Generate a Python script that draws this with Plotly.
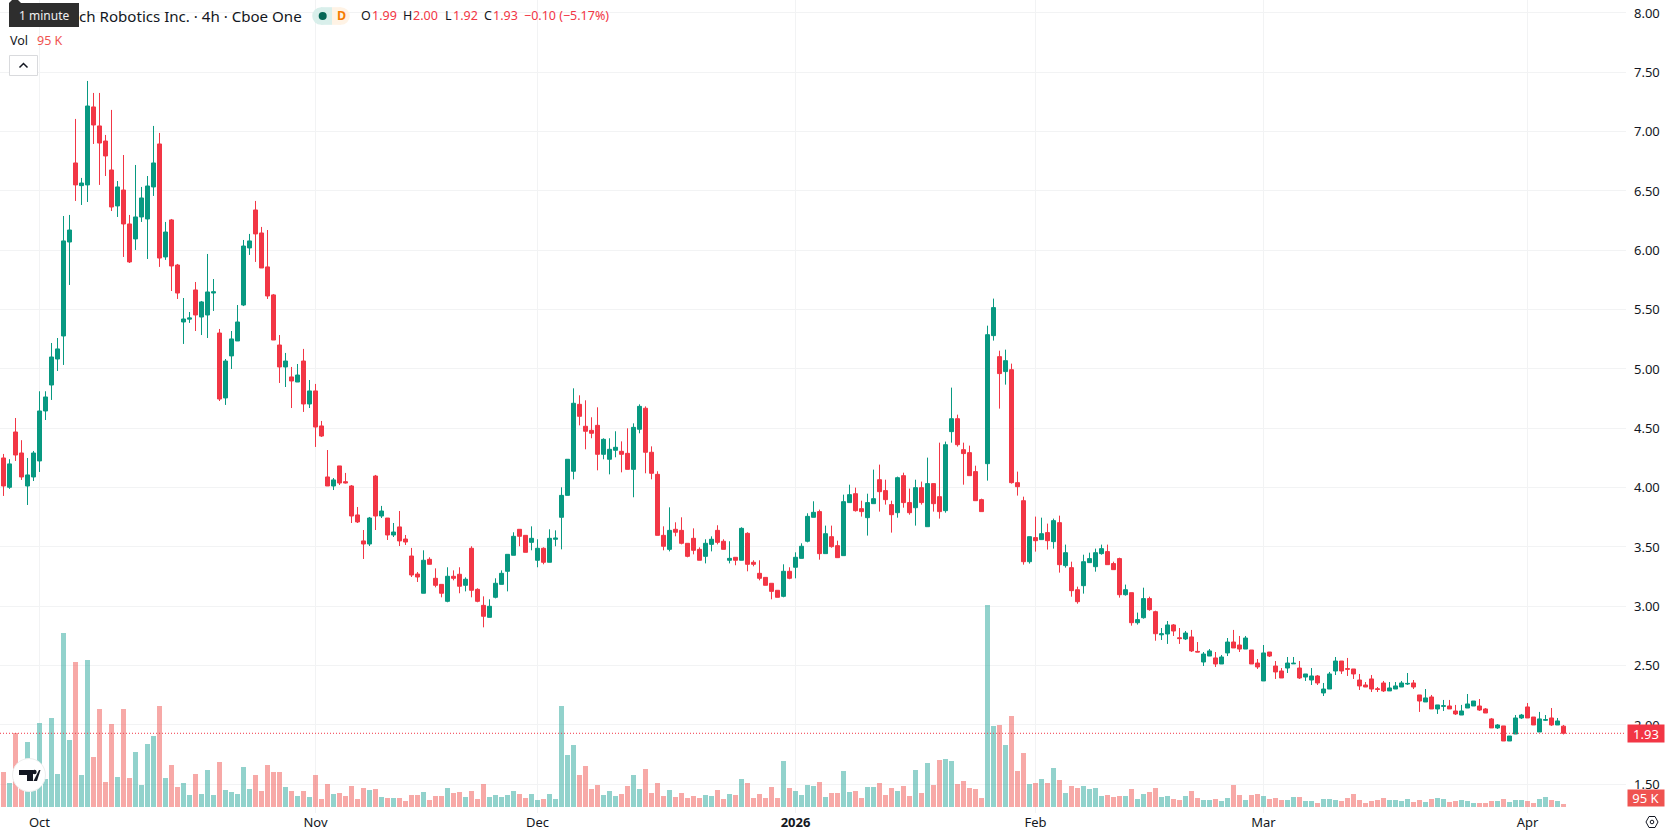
import plotly.graph_objects as go

# 4-hour bars, oldest first; prices in USD, volume in thousands of shares
opens = [
    4.25, 4.003, 4.469, 4.292, 4.014, 4.09, 4.225, 4.646, 4.865, 5.084,
    5.278, 6.07, 6.736, 6.545, 6.551, 7.208, 7.048, 6.921, 6.677, 6.374,
    6.508, 6.222, 6.096, 6.281, 6.264, 6.534, 6.896, 5.944, 6.256, 5.876,
    5.396, 5.42, 5.666, 5.438, 5.455, 5.64, 5.303, 4.756, 5.11, 5.236,
    5.539, 6.02, 6.34, 6.146, 5.86, 5.624, 5.202, 5.017, 4.933, 4.89,
    5.067, 4.705, 4.815, 4.52, 4.09, 4.014, 4.183, 4.05, 4.014, 3.77,
    3.551, 3.525, 4.098, 3.761, 3.744, 3.601, 3.669, 3.567, 3.424, 3.272,
    3.11, 3.396, 3.236, 3.185, 3.042, 3.253, 3.27, 3.177, 3.489, 3.143,
    3.008, 2.907, 3.076, 3.185, 3.295, 3.43, 3.649, 3.598, 3.539, 3.388,
    3.489, 3.371, 3.565, 3.75, 3.935, 4.138, 4.702, 4.517, 4.483, 4.525,
    4.281, 4.239, 4.315, 4.306, 4.289, 4.154, 4.492, 4.669, 4.298, 4.112,
    3.598, 3.48, 3.649, 3.64, 3.531, 3.573, 3.48, 3.421, 3.522, 3.64,
    3.548, 3.388, 3.413, 3.388, 3.615, 3.371, 3.278, 3.244, 3.194, 3.135,
    3.084, 3.295, 3.329, 3.404, 3.548, 3.75, 3.798, 3.444, 3.587, 3.511,
    3.427, 3.874, 3.949, 3.823, 3.747, 3.865, 4.067, 3.975, 3.857, 3.789,
    4.101, 3.874, 3.831, 4.0, 3.671, 4.034, 3.924, 3.806, 4.472, 4.581,
    4.32, 4.295, 4.135, 3.899, 4.202, 5.281, 5.104, 4.978, 4.994, 4.042,
    3.89, 3.376, 3.579, 3.562, 3.621, 3.545, 3.705, 3.343, 3.326, 3.14,
    3.174, 3.368, 3.334, 3.444, 3.461, 3.36, 3.402, 3.098, 3.115, 2.862,
    2.904, 3.065, 2.955, 2.76, 2.767, 2.843, 2.735, 2.725, 2.742, 2.62,
    2.531, 2.581, 2.565, 2.514, 2.607, 2.699, 2.674, 2.64, 2.632, 2.522,
    2.371, 2.615, 2.497, 2.455, 2.48, 2.515, 2.48, 2.404, 2.379, 2.413,
    2.27, 2.303, 2.455, 2.539, 2.475, 2.472, 2.379, 2.337, 2.388, 2.305,
    2.354, 2.287, 2.303, 2.32, 2.345, 2.354, 2.253, 2.194, 2.236, 2.135,
    2.157, 2.16, 2.118, 2.084, 2.143, 2.16, 2.16, 2.135, 2.051, 1.975,
    1.992, 1.865, 1.924, 2.059, 2.152, 2.067, 1.941, 2.04, 2.059, 2.0,
    1.99,
]
highs = [
    4.284, 4.24, 4.587, 4.40, 4.25, 4.309, 4.812, 4.812, 5.219, 5.261,
    6.289, 6.298, 7.107, 6.61, 7.427, 7.326, 7.326, 6.972, 7.183, 6.584,
    6.803, 6.298, 6.719, 6.534, 6.626, 7.048, 6.989, 6.239, 6.264, 5.885,
    5.598, 5.48, 5.733, 5.573, 5.969, 5.758, 5.337, 5.084, 5.32, 5.539,
    6.087, 6.138, 6.416, 6.197, 6.171, 5.632, 5.286, 5.135, 5.017, 5.042,
    5.169, 4.907, 4.874, 4.562, 4.317, 4.081, 4.183, 4.124, 4.022, 3.837,
    3.643, 3.753, 4.107, 3.846, 3.744, 3.702, 3.803, 3.601, 3.492, 3.289,
    3.472, 3.413, 3.32, 3.185, 3.329, 3.303, 3.329, 3.244, 3.506, 3.152,
    3.084, 3.059, 3.236, 3.303, 3.438, 3.624, 3.649, 3.598, 3.674, 3.565,
    3.497, 3.649, 3.64, 4.003, 4.239, 4.837, 4.778, 4.736, 4.593, 4.677,
    4.416, 4.416, 4.475, 4.39, 4.5, 4.542, 4.702, 4.685, 4.348, 4.138,
    3.674, 3.834, 3.708, 3.75, 3.531, 3.657, 3.497, 3.565, 3.59, 3.683,
    3.565, 3.548, 3.413, 3.666, 3.624, 3.388, 3.388, 3.244, 3.194, 3.135,
    3.354, 3.329, 3.455, 3.531, 3.784, 3.885, 3.815, 3.68, 3.68, 3.553,
    3.941, 4.025, 4.0, 3.89, 3.949, 4.152, 4.194, 4.067, 3.89, 4.093,
    4.126, 3.992, 4.067, 4.051, 4.253, 4.034, 4.379, 4.388, 4.843, 4.615,
    4.379, 4.354, 4.185, 3.907, 5.365, 5.593, 5.154, 5.163, 5.045, 4.135,
    3.924, 3.587, 3.756, 3.747, 3.697, 3.739, 3.764, 3.52, 3.376, 3.166,
    3.435, 3.452, 3.486, 3.52, 3.52, 3.376, 3.41, 3.183, 3.115, 2.947,
    3.157, 3.081, 2.963, 2.817, 2.876, 2.851, 2.817, 2.792, 2.801, 2.699,
    2.615, 2.64, 2.615, 2.59, 2.733, 2.801, 2.75, 2.75, 2.632, 2.556,
    2.674, 2.615, 2.539, 2.48, 2.573, 2.573, 2.539, 2.43, 2.48, 2.421,
    2.354, 2.447, 2.573, 2.539, 2.565, 2.472, 2.43, 2.362, 2.421, 2.32,
    2.371, 2.362, 2.362, 2.371, 2.438, 2.379, 2.253, 2.303, 2.253, 2.169,
    2.211, 2.211, 2.169, 2.169, 2.261, 2.202, 2.219, 2.143, 2.059, 2.008,
    1.992, 1.907, 2.084, 2.093, 2.185, 2.067, 2.11, 2.084, 2.143, 2.059,
    2.0,
]
lows = [
    3.93, 3.99, 4.225, 4.065, 3.854, 4.056, 4.132, 4.57, 4.739, 4.983,
    5.034, 5.708, 6.416, 6.382, 6.407, 6.896, 6.551, 6.626, 6.331, 6.281,
    5.944, 5.893, 6.003, 6.239, 5.927, 6.458, 5.86, 5.919, 5.657, 5.59,
    5.211, 5.388, 5.32, 5.286, 5.261, 5.489, 4.73, 4.697, 5.0, 5.236,
    5.53, 5.961, 5.902, 5.851, 5.59, 5.244, 4.882, 4.848, 4.671, 4.89,
    4.638, 4.671, 4.343, 4.427, 4.014, 3.98, 4.022, 4.035, 3.702, 3.702,
    3.399, 3.508, 3.643, 3.744, 3.559, 3.584, 3.508, 3.517, 3.247, 3.205,
    3.11, 3.354, 3.16, 3.076, 3.034, 3.219, 3.11, 3.126, 3.076, 3.034,
    2.823, 2.907, 3.067, 3.185, 3.126, 3.43, 3.506, 3.455, 3.472, 3.329,
    3.354, 3.371, 3.506, 3.48, 3.935, 4.07, 4.525, 4.323, 4.416, 4.146,
    4.239, 4.112, 4.256, 4.129, 4.154, 3.919, 4.458, 4.121, 4.07, 3.598,
    3.472, 3.463, 3.59, 3.522, 3.413, 3.438, 3.388, 3.362, 3.463, 3.522,
    3.48, 3.362, 3.346, 3.388, 3.295, 3.337, 3.219, 3.177, 3.059, 3.076,
    3.076, 3.228, 3.236, 3.404, 3.539, 3.75, 3.393, 3.444, 3.494, 3.41,
    3.427, 3.874, 3.798, 3.756, 3.596, 3.865, 3.798, 3.857, 3.621, 3.747,
    3.831, 3.772, 3.68, 3.857, 3.671, 3.798, 3.739, 3.789, 4.379, 4.346,
    4.025, 4.101, 3.89, 3.798, 4.059, 5.239, 4.666, 4.868, 4.034, 3.933,
    3.351, 3.36, 3.461, 3.562, 3.478, 3.486, 3.284, 3.326, 3.081, 3.022,
    3.107, 3.368, 3.292, 3.435, 3.351, 3.309, 3.073, 3.09, 2.837, 2.846,
    2.896, 2.963, 2.71, 2.716, 2.683, 2.75, 2.683, 2.716, 2.615, 2.615,
    2.497, 2.581, 2.489, 2.514, 2.581, 2.649, 2.615, 2.64, 2.514, 2.472,
    2.371, 2.573, 2.388, 2.396, 2.438, 2.514, 2.388, 2.371, 2.337, 2.337,
    2.244, 2.303, 2.421, 2.43, 2.413, 2.388, 2.295, 2.32, 2.278, 2.278,
    2.278, 2.287, 2.303, 2.32, 2.337, 2.303, 2.11, 2.194, 2.135, 2.093,
    2.118, 2.135, 2.084, 2.084, 2.143, 2.16, 2.118, 2.101, 1.975, 1.966,
    1.865, 1.865, 1.924, 2.051, 2.059, 2.0, 1.941, 2.034, 1.992, 2.0,
    1.92,
]
closes = [
    4.014, 4.20, 4.275, 4.09, 4.107, 4.292, 4.646, 4.764, 5.101, 5.169,
    6.079, 6.171, 6.551, 6.567, 7.216, 7.056, 6.904, 6.795, 6.365, 6.534,
    6.222, 5.902, 6.281, 6.441, 6.542, 6.736, 5.935, 6.154, 5.868, 5.64,
    5.421, 5.43, 5.455, 5.565, 5.649, 5.65, 4.747, 5.067, 5.253, 5.396,
    6.036, 6.079, 6.138, 5.851, 5.615, 5.244, 5.017, 5.067, 4.899, 4.949,
    4.705, 4.815, 4.511, 4.435, 4.014, 4.065, 4.039, 4.04, 3.761, 3.711,
    3.525, 3.744, 3.761, 3.803, 3.601, 3.626, 3.551, 3.542, 3.264, 3.247,
    3.388, 3.354, 3.177, 3.11, 3.253, 3.236, 3.169, 3.228, 3.135, 3.042,
    2.916, 3.0, 3.194, 3.278, 3.438, 3.59, 3.59, 3.455, 3.573, 3.489,
    3.371, 3.573, 3.575, 3.935, 4.239, 4.711, 4.601, 4.475, 4.458, 4.281,
    4.407, 4.323, 4.34, 4.281, 4.154, 4.508, 4.685, 4.298, 4.121, 3.598,
    3.506, 3.64, 3.624, 3.531, 3.421, 3.472, 3.388, 3.531, 3.565, 3.539,
    3.48, 3.404, 3.388, 3.657, 3.354, 3.354, 3.236, 3.177, 3.126, 3.076,
    3.295, 3.236, 3.413, 3.506, 3.758, 3.792, 3.444, 3.612, 3.503, 3.41,
    3.882, 3.941, 3.806, 3.798, 3.874, 3.907, 3.966, 3.899, 3.772, 4.084,
    3.874, 3.789, 4.0, 3.874, 4.034, 3.865, 3.798, 4.362, 4.581, 4.362,
    4.287, 4.101, 3.89, 3.798, 5.289, 5.517, 4.961, 5.07, 4.042, 4.008,
    3.376, 3.587, 3.553, 3.612, 3.553, 3.722, 3.351, 3.452, 3.132, 3.039,
    3.376, 3.402, 3.452, 3.486, 3.351, 3.309, 3.098, 3.14, 2.862, 2.888,
    3.065, 2.972, 2.769, 2.768, 2.843, 2.792, 2.728, 2.775, 2.624, 2.615,
    2.598, 2.624, 2.514, 2.573, 2.699, 2.649, 2.64, 2.733, 2.514, 2.489,
    2.607, 2.581, 2.447, 2.396, 2.522, 2.52, 2.396, 2.43, 2.413, 2.354,
    2.303, 2.43, 2.539, 2.455, 2.47, 2.43, 2.329, 2.32, 2.303, 2.3,
    2.287, 2.312, 2.329, 2.354, 2.35, 2.32, 2.202, 2.228, 2.135, 2.169,
    2.162, 2.135, 2.093, 2.118, 2.177, 2.202, 2.126, 2.101, 1.975, 2.0,
    1.865, 1.907, 2.059, 2.084, 2.059, 2.0, 2.051, 2.045, 2.0, 2.034,
    1.93,
]
volumes = [
    1109, 760, 2344, 634, 2059, 528, 2661, 887, 2820, 1045,
    5512, 2123, 4594, 1014, 4657, 1584, 3105, 792, 2629, 950,
    3105, 919, 1742, 697, 1996, 2249, 3200, 919, 1331, 634,
    760, 380, 1045, 412, 1172, 380, 1426, 539, 475, 412,
    1267, 570, 1014, 507, 1331, 1109, 1109, 634, 507, 348,
    507, 317, 1014, 253, 729, 412, 444, 348, 665, 253,
    602, 539, 570, 317, 285, 285, 285, 190, 380, 380,
    475, 222, 348, 348, 602, 444, 475, 317, 507, 253,
    729, 317, 380, 317, 380, 507, 412, 285, 412, 222,
    253, 412, 253, 3200, 1647, 1964, 1014, 1299, 570, 697,
    380, 507, 348, 412, 665, 1014, 570, 1204, 444, 760,
    348, 539, 317, 444, 285, 348, 285, 380, 348, 539,
    253, 412, 380, 887, 760, 285, 412, 285, 634, 285,
    1457, 602, 507, 380, 697, 665, 792, 317, 444, 444,
    1140, 475, 507, 285, 634, 634, 760, 380, 602, 507,
    665, 348, 1172, 444, 1394, 697, 1489, 1521, 1457, 729,
    824, 602, 570, 285, 6399, 2566, 2598, 1964, 2883, 1140,
    1711, 729, 760, 887, 760, 1236, 855, 444, 665, 602,
    665, 570, 602, 348, 380, 317, 348, 348, 570, 253,
    412, 475, 602, 317, 348, 253, 222, 348, 507, 285,
    222, 222, 253, 190, 285, 697, 380, 222, 380, 412,
    348, 253, 285, 222, 222, 317, 317, 190, 190, 127,
    253, 253, 222, 190, 285, 412, 222, 127, 190, 222,
    285, 222, 222, 190, 253, 158, 222, 158, 253, 285,
    253, 158, 190, 222, 190, 127, 127, 127, 190, 190,
    253, 158, 222, 222, 190, 127, 253, 317, 222, 190, 95,
]

# Month boundaries on the time axis, as bar positions
month_positions = [6, 52, 89, 132, 172, 210, 254]
month_labels = ["Oct", "Nov", "Dec", "<b>2026</b>", "Feb", "Mar", "Apr"]
price_ticks = [1.5, 2.0, 2.5, 3.0, 3.5, 4.0, 4.5, 5.0, 5.5, 6.0, 6.5, 7.0, 7.5, 8.0]

UP = "#089981"
DOWN = "#F23645"
VOL_UP = "#26A69A"
VOL_DOWN = "#EF5350"
TEXT = "#131722"
GRID = "#f2f3f4"
FONT = "Noto Sans"

WIDTH, HEIGHT = 1678, 835
PLOT_W, PLOT_H = 1626, 813
bars = list(range(len(opens)))


def fx(px):
    return px / PLOT_W


def fy(py):
    return 1 - py / PLOT_H


def label(px, py, text, color=TEXT, size=13, anchor="left", **kw):
    return dict(x=fx(px), y=fy(py), xref="paper", yref="paper", text=text, showarrow=False,
                xanchor=anchor, yanchor="middle", borderpad=0,
                font=dict(family=FONT, size=size, color=color), **kw)


def box(x0, y0, x1, y1, **kw):
    return dict(type="rect", xref="paper", yref="paper", x0=fx(x0), x1=fx(x1), y0=fy(y0), y1=fy(y1), **kw)


def outline(points, closed=True, **kw):
    path = "M" + " L".join(f"{fx(a):.5f},{fy(b):.5f}" for a, b in points) + (" Z" if closed else "")
    return dict(type="path", xref="paper", yref="paper", path=path, **kw)


def disc(cx, cy, r, **kw):
    return dict(type="circle", xref="paper", yref="paper",
                x0=fx(cx - r), x1=fx(cx + r), y0=fy(cy - r), y1=fy(cy + r), **kw)


volume_colors = [VOL_UP if c >= o else VOL_DOWN for o, c in zip(opens, closes)]

fig = go.Figure()
fig.add_bar(x=bars, y=volumes, marker=dict(color=volume_colors, opacity=0.5, line_width=0),
            xaxis="x", yaxis="y", hoverinfo="skip")
fig.add_candlestick(
    x=bars, open=opens, high=highs, low=lows, close=closes, xaxis="x", yaxis="y2",
    whiskerwidth=0,
    increasing=dict(line=dict(color=UP, width=1), fillcolor=UP),
    decreasing=dict(line=dict(color=DOWN, width=1), fillcolor=DOWN),
)

shapes = [
    # last-price marker across the chart
    dict(type="line", xref="paper", yref="y2", x0=0, x1=1, y0=closes[-1], y1=closes[-1],
         line=dict(color=DOWN, width=1, dash="1px,2px")),
    # symbol status pills with rounded outer ends
    disc(321, 16, 8.8, fillcolor="#d9efeb", line_width=0),
    box(321, 7.2, 332, 24.8, fillcolor="#d9efeb", line_width=0),
    disc(341, 16, 8.8, fillcolor="#fff3e5", line_width=0),
    box(332, 7.2, 341, 24.8, fillcolor="#fff3e5", line_width=0),
    disc(322.7, 16, 4, fillcolor="#056656", line_width=0),
    # collapse button of the legend
    box(9.5, 55.5, 37.5, 75.5, fillcolor="white", line=dict(color="#d9dadd", width=1)),
    outline([(19.5, 67.5), (23.5, 63.5), (27.5, 67.5)], closed=False, line=dict(color=TEXT, width=1.5)),
    # interval tooltip
    box(9, 3, 79, 27, fillcolor="#2e2e2e", line_width=0),
    outline([(9, 3), (15, -3), (21, 3)], fillcolor="#2e2e2e", line_width=0),
    # logo badge
    disc(29, 775, 16.5, fillcolor="white", line=dict(color="#eeeeee", width=1)),
    outline([(19, 770), (33, 770), (33, 781), (27, 781), (27, 775), (19, 775)], fillcolor="#131722", line_width=0),
    disc(34.5, 772, 2.2, fillcolor="#131722", line_width=0),
    outline([(33.5, 781), (39, 770), (40.5, 770), (37, 781)], fillcolor="#131722", line_width=0),
    # settings glyph under the price scale
    outline([(1646, 822), (1649, 816.5), (1655, 816.5), (1658, 822), (1655, 827.5), (1649, 827.5)],
            line=dict(color=TEXT, width=1)),
    disc(1652, 822, 1.8, line=dict(color=TEXT, width=1)),
]

annotations = [
    label(78, 16, "ch Robotics Inc. · 4h · Cboe One", size=15.1),
    label(341, 16, "<b>D</b>", color="#f57c00", size=12.5, anchor="center"),
    label(360, 16, "O", size=12.5),
    label(371, 16, f"{opens[-1]:.2f}", color=DOWN, size=12.5),
    label(402, 16, "H", size=12.5),
    label(412, 16, f"{highs[-1]:.2f}", color=DOWN, size=12.5),
    label(444, 16, "L", size=12.5),
    label(452, 16, f"{lows[-1]:.2f}", color=DOWN, size=12.5),
    label(483, 16, "C", size=12.5),
    label(492, 16, f"{closes[-1]:.2f}", color=DOWN, size=12.5),
    label(523, 16, "−0.10 (−5.17%)", color=DOWN, size=12.5),
    label(9, 40, "Vol", size=12.5),
    label(36, 40, "95 K", color=VOL_DOWN, size=12.5),
    label(44, 15.5, "1 minute", color="#f0f0f0", size=12, anchor="center"),
    # value tags on the price scale
    dict(x=fx(1627), xref="paper", xanchor="left", y=closes[-1], yref="y2", yanchor="middle",
         text=f"{closes[-1]:.2f}", showarrow=False, bgcolor=DOWN, width=36, height=17, borderpad=0,
         font=dict(family=FONT, size=13, color="white")),
    dict(x=fx(1627), xref="paper", xanchor="left", y=0, yref="y", yanchor="bottom",
         text="95 K", showarrow=False, bgcolor=VOL_DOWN, width=36, height=16, borderpad=0,
         font=dict(family=FONT, size=13, color="white")),
]

fig.update_layout(
    width=WIDTH, height=HEIGHT,
    margin=dict(l=0, r=WIDTH - PLOT_W, t=0, b=HEIGHT - PLOT_H, pad=0),
    paper_bgcolor="white", plot_bgcolor="white",
    showlegend=False, bargap=1 / 6, boxgap=1 / 3, boxgroupgap=0,
    font=dict(family=FONT, size=13, color=TEXT),
    xaxis=dict(range=[-3.5 / 6, (PLOT_W - 3.5) / 6], rangeslider=dict(visible=False),
               tickmode="array", tickvals=month_positions, ticktext=month_labels,
               showgrid=True, gridcolor=GRID, gridwidth=1, ticks="", zeroline=False,
               showline=False, tickfont=dict(family=FONT, size=13, color=TEXT)),
    yaxis=dict(range=[-190, 25566], visible=False, showgrid=False, zeroline=False, fixedrange=True),
    yaxis2=dict(range=[7.5 - (PLOT_H - 72.3) / 118.67, 7.5 + 72.3 / 118.67],
                overlaying="y", side="right", tickmode="array", tickvals=price_ticks,
                ticktext=[f"{t:.2f}" for t in price_ticks], showgrid=True, gridcolor=GRID,
                gridwidth=1, ticks="", zeroline=False, showline=False,
                ticklabelstandoff=7, tickfont=dict(family=FONT, size=13, color=TEXT)),
    shapes=shapes, annotations=annotations,
)

fig.write_html("out.html", config=dict(displayModeBar=False))
